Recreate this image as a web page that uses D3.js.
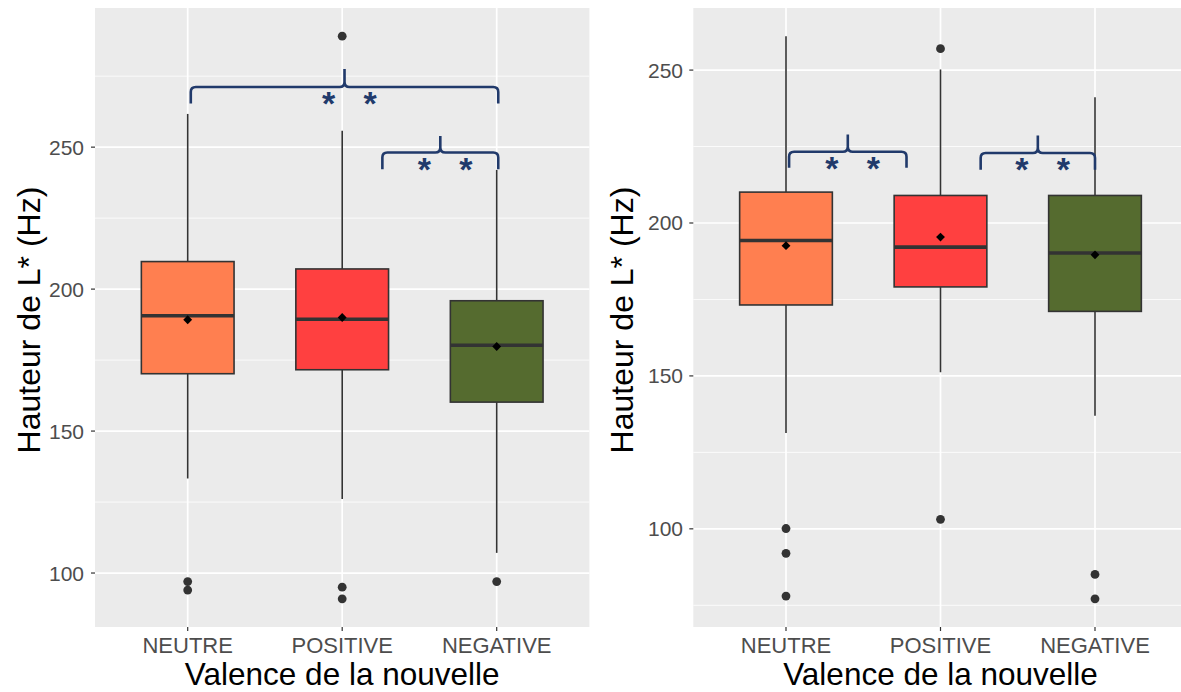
<!DOCTYPE html>
<html>
<head>
<meta charset="utf-8">
<script src="https://cdn.jsdelivr.net/npm/d3@7"></script>
<style>
html,body{margin:0;padding:0;background:#fff;overflow:hidden;}
svg{display:block;font-family:"Liberation Sans",Arial,sans-serif;}
</style>
</head>
<body>
<svg id="chart" width="1181" height="692"></svg>
<script>
// ---------- DATA ----------
const categories = ["NEUTRE", "POSITIVE", "NEGATIVE"];
const boxColors = ["#FF7F50", "#FF4040", "#556B2F"];
const xTitle = "Valence de la nouvelle";
const yTitle = "Hauteur de L* (Hz)";
const majorTicks = [100, 150, 200, 250];

// Left panel
const leftLowWhisker = [133.3, 126.1, 107.1];
const leftQ1 = [170.2, 171.6, 160.2];
const leftMedian = [190.6, 189.4, 180.2];
const leftQ3 = [209.7, 207.1, 195.9];
const leftHighWhisker = [261.7, 255.8, 242.0];
const leftMean = [189.2, 190.0, 179.8];
const leftOutliers = [[97.0, 94.0], [289.1, 95.0, 90.9], [97.0]];
// brackets: [x start, x end] in category units, y of line, y of ends, y of tip
const leftBrackets = [
  {x0: 1.02, x1: 3.01, y: 271.2, yEnd: 265.4, yTip: 277.5, label: "*"},
  {x0: 2.26, x1: 3.01, y: 248.1, yEnd: 242.2, yTip: 253.9, label: "*"}
];

// Right panel
const rightLowWhisker = [131.3, 151.2, 137.0];
const rightQ1 = [173.2, 179.1, 171.1];
const rightMedian = [194.3, 192.1, 190.2];
const rightQ3 = [210.1, 209.0, 209.0];
const rightHighWhisker = [261.1, 250.2, 241.1];
const rightMean = [192.6, 195.4, 189.6];
const rightOutliers = [[100.1, 92.0, 78.0], [257.0, 103.1], [85.1, 77.1]];
const rightBrackets = [
  {x0: 1.02, x1: 1.78, y: 223.3, yEnd: 218.1, yTip: 228.9, label: "*"},
  {x0: 2.26, x1: 3.00, y: 222.9, yEnd: 217.4, yTip: 228.6, label: "*"}
];

// ---------- DRAW ----------
const svg = d3.select("#chart");
const panelTop = 8, panelBottom = 627, panelWidth = 494.4;

function drawPanel(cfg) {
  const {left, low, q1, med, q3, high, mean, outliers, brackets, titleX, tickEnd} = cfg;
  const g = svg.append("g");
  const allVals = [].concat(low, high, ...outliers);
  const mn = d3.min(allVals), mx = d3.max(allVals), r = mx - mn;
  const y = d3.scaleLinear().domain([mn - 0.05 * r, mx + 0.05 * r]).range([panelBottom, panelTop]);
  const x = d3.scaleLinear().domain([0.4, 3.6]).range([left, left + panelWidth]);
  const unit = x(2) - x(1);

  g.append("rect").attr("x", left).attr("y", panelTop)
    .attr("width", panelWidth).attr("height", panelBottom - panelTop).attr("fill", "#EBEBEB");

  const dom = y.domain();
  const minor = d3.range(75, 301, 50).filter(v => v >= dom[0] && v <= dom[1]);
  g.selectAll(".minor").data(minor).enter().append("line")
    .attr("x1", left).attr("x2", left + panelWidth)
    .attr("y1", d => y(d)).attr("y2", d => y(d))
    .attr("stroke", "#fff").attr("stroke-width", 0.8);
  g.selectAll(".major").data(majorTicks).enter().append("line")
    .attr("x1", left).attr("x2", left + panelWidth)
    .attr("y1", d => y(d)).attr("y2", d => y(d))
    .attr("stroke", "#fff").attr("stroke-width", 1.7);
  g.selectAll(".vmajor").data(categories).enter().append("line")
    .attr("x1", (d, i) => x(i + 1)).attr("x2", (d, i) => x(i + 1))
    .attr("y1", panelTop).attr("y2", panelBottom)
    .attr("stroke", "#fff").attr("stroke-width", 1.7);

  const bw = 0.6 * unit;
  categories.forEach((c, i) => {
    const cx = x(i + 1);
    g.append("line").attr("x1", cx).attr("x2", cx).attr("y1", y(q3[i])).attr("y2", y(high[i]))
      .attr("stroke", "#333").attr("stroke-width", 1.6);
    g.append("line").attr("x1", cx).attr("x2", cx).attr("y1", y(q1[i])).attr("y2", y(low[i]))
      .attr("stroke", "#333").attr("stroke-width", 1.6);
    g.append("rect").attr("x", cx - bw / 2).attr("y", y(q3[i]))
      .attr("width", bw).attr("height", y(q1[i]) - y(q3[i]))
      .attr("fill", boxColors[i]).attr("stroke", "#333").attr("stroke-width", 1.6);
    g.append("line").attr("x1", cx - bw / 2).attr("x2", cx + bw / 2)
      .attr("y1", y(med[i])).attr("y2", y(med[i]))
      .attr("stroke", "#333").attr("stroke-width", 3.6);
    g.selectAll(null).data(outliers[i]).enter().append("circle")
      .attr("cx", cx).attr("cy", d => y(d)).attr("r", 4.4).attr("fill", "#333");
    g.append("path").attr("d", d3.symbol(d3.symbolDiamond2, 50)())
      .attr("transform", `translate(${cx},${y(mean[i])})`)
      .attr("fill", "#000");
  });

  g.selectAll(".yt").data(majorTicks).enter().append("line")
    .attr("x1", left - 4).attr("x2", left).attr("y1", d => y(d)).attr("y2", d => y(d))
    .attr("stroke", "#333").attr("stroke-width", 1.2);
  g.selectAll(".yl").data(majorTicks).enter().append("text")
    .attr("x", tickEnd).attr("y", d => y(d) + 7.5)
    .attr("text-anchor", "end").attr("font-size", 21).attr("fill", "#4D4D4D")
    .text(d => d);
  g.selectAll(".xt").data(categories).enter().append("line")
    .attr("x1", (d, i) => x(i + 1)).attr("x2", (d, i) => x(i + 1))
    .attr("y1", panelBottom).attr("y2", panelBottom + 4)
    .attr("stroke", "#333").attr("stroke-width", 1.2);
  g.selectAll(".xl").data(categories).enter().append("text")
    .attr("x", (d, i) => x(i + 1)).attr("y", 653)
    .attr("text-anchor", "middle").attr("font-size", 22).attr("fill", "#4D4D4D")
    .text(d => d);
  g.append("text").attr("x", left + panelWidth / 2).attr("y", 685)
    .attr("text-anchor", "middle").attr("font-size", 31.5).attr("fill", "#000").text(xTitle);
  g.append("text").attr("transform", `translate(${titleX},320) rotate(-90)`)
    .attr("text-anchor", "middle").attr("font-size", 32).attr("fill", "#000").text(yTitle);

  const navy = "#213A6B";
  brackets.forEach(b => {
    const xa = x(b.x0), xb = x(b.x1), xm = (xa + xb) / 2;
    const yl = y(b.y), ye = y(b.yEnd), yt = y(b.yTip), rr = 5;
    const p = d3.path();
    p.moveTo(xa, ye);
    p.lineTo(xa, yl + rr);
    p.quadraticCurveTo(xa, yl, xa + rr, yl);
    p.lineTo(xm - rr, yl);
    p.quadraticCurveTo(xm, yl, xm, yl - rr);
    p.lineTo(xm, yt);
    p.moveTo(xm, yl - rr);
    p.quadraticCurveTo(xm, yl, xm + rr, yl);
    p.lineTo(xb - rr, yl);
    p.quadraticCurveTo(xb, yl, xb, yl + rr);
    p.lineTo(xb, ye);
    g.append("path").attr("d", p.toString()).attr("fill", "none")
      .attr("stroke", navy).attr("stroke-width", 2.6);
    [-16, 25.5].forEach(dx => {
      g.append("text").attr("x", xm + dx).attr("y", yl + 28)
        .attr("text-anchor", "middle").attr("font-size", 34).attr("font-weight", "bold")
        .attr("fill", navy).text(b.label);
    });
  });
}

drawPanel({left: 95, low: leftLowWhisker, q1: leftQ1, med: leftMedian, q3: leftQ3,
  high: leftHighWhisker, mean: leftMean, outliers: leftOutliers, brackets: leftBrackets,
  titleX: 40, tickEnd: 84});
drawPanel({left: 693.3, low: rightLowWhisker, q1: rightQ1, med: rightMedian, q3: rightQ3,
  high: rightHighWhisker, mean: rightMean, outliers: rightOutliers, brackets: rightBrackets,
  titleX: 633, tickEnd: 683});
</script>
</body>
</html>
